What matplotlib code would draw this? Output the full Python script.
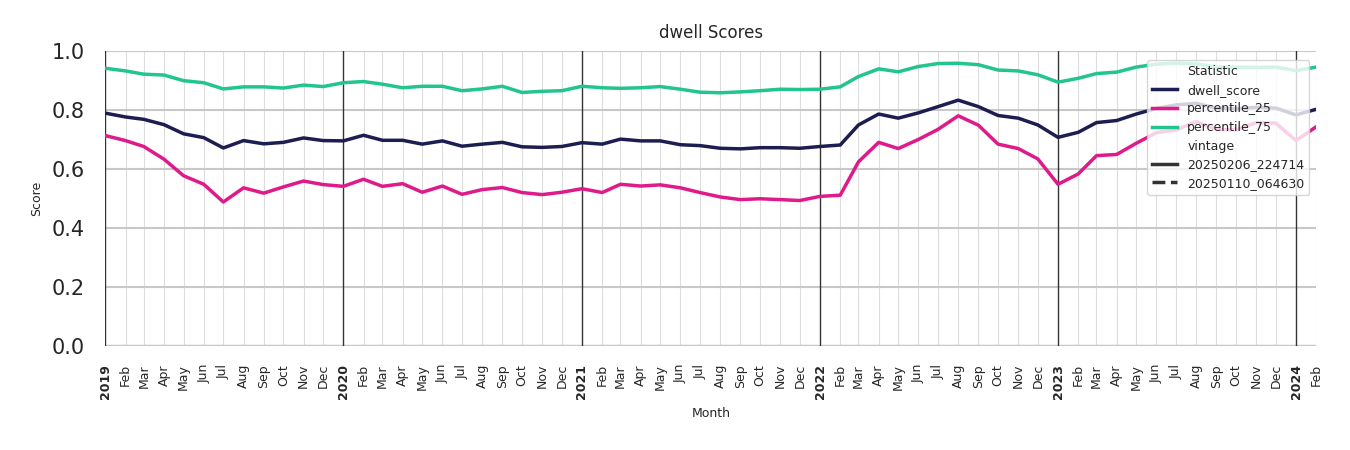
import pandas as pd
import matplotlib.pyplot as plt
from matplotlib.lines import Line2D

months = pd.date_range('2019-01-01', '2024-02-01', freq='MS')

dwell_score = [
    0.789, 0.776, 0.768, 0.750, 0.719, 0.706, 0.671, 0.696, 0.685, 0.690, 0.705, 0.696,
    0.695, 0.714, 0.697, 0.697, 0.684, 0.695, 0.677, 0.684, 0.690, 0.675, 0.673, 0.676,
    0.689, 0.684, 0.701, 0.695, 0.695, 0.682, 0.679, 0.670, 0.668, 0.672, 0.672, 0.670,
    0.676, 0.681, 0.749, 0.786, 0.772, 0.790, 0.811, 0.833, 0.811, 0.781, 0.772, 0.749,
    0.707, 0.724, 0.757, 0.764, 0.786, 0.805, 0.817, 0.822, 0.806, 0.803, 0.809, 0.806,
    0.783, 0.802,
]
percentile_25 = [
    0.713, 0.696, 0.676, 0.633, 0.577, 0.548, 0.488, 0.536, 0.518, 0.539, 0.559, 0.547,
    0.541, 0.565, 0.541, 0.550, 0.521, 0.542, 0.514, 0.530, 0.537, 0.520, 0.513, 0.521,
    0.533, 0.520, 0.548, 0.542, 0.546, 0.536, 0.520, 0.505, 0.496, 0.499, 0.496, 0.493,
    0.507, 0.511, 0.624, 0.690, 0.669, 0.700, 0.734, 0.780, 0.748, 0.684, 0.669, 0.634,
    0.548, 0.583, 0.645, 0.649, 0.687, 0.723, 0.732, 0.760, 0.734, 0.732, 0.757, 0.755,
    0.696, 0.743,
]
percentile_75 = [
    0.941, 0.932, 0.921, 0.918, 0.899, 0.892, 0.871, 0.878, 0.878, 0.874, 0.884, 0.879,
    0.892, 0.896, 0.887, 0.875, 0.880, 0.880, 0.865, 0.871, 0.880, 0.859, 0.863, 0.865,
    0.880, 0.875, 0.873, 0.875, 0.879, 0.870, 0.860, 0.858, 0.861, 0.865, 0.870, 0.869,
    0.870, 0.878, 0.913, 0.939, 0.929, 0.947, 0.957, 0.958, 0.953, 0.935, 0.932, 0.919,
    0.894, 0.907, 0.923, 0.928, 0.945, 0.955, 0.958, 0.956, 0.945, 0.945, 0.944, 0.945,
    0.933, 0.945,
]

colors = {'dwell_score': '#1c1d50', 'percentile_25': '#df1a8a', 'percentile_75': '#22c48f'}

fig = plt.figure(figsize=(13.5, 4.5), dpi=100)
ax = fig.add_axes([0.078, 0.231, 0.897, 0.656])

# month grid, year lines
for m in months:
    if m.month == 1:
        ax.axvline(m, color='#333333', lw=1.0, zorder=1)
    else:
        ax.axvline(m, color='#dddddd', lw=0.8, zorder=0)
for yv in [0.0, 0.2, 0.4, 0.6, 0.8, 1.0]:
    ax.axhline(yv, color='#c8c8c8', lw=1.5 if yv > 0 else 2.5, zorder=0)

ax.plot(months, dwell_score, color=colors['dwell_score'], lw=2.5, zorder=3)
ax.plot(months, percentile_25, color=colors['percentile_25'], lw=2.5, zorder=3)
ax.plot(months, percentile_75, color=colors['percentile_75'], lw=2.5, zorder=3)

ax.set_xlim(months[0], months[-1])
ax.set_ylim(0, 1.0)
for s in ax.spines.values():
    s.set_visible(False)

ax.set_yticks([0.0, 0.2, 0.4, 0.6, 0.8, 1.0])
ax.set_yticklabels(['0.0', '0.2', '0.4', '0.6', '0.8', '1.0'], fontsize=15, color='#262626')
ax.tick_params(axis='y', length=0, pad=15)
ax.tick_params(axis='x', length=0, pad=13)

ax.set_xticks(months)
labels = [str(m.year) if m.month == 1 else m.strftime('%b') for m in months]
ax.set_xticklabels(labels, rotation=90, fontsize=9, color='#262626')
for t, m in zip(ax.get_xticklabels(), months):
    if m.month == 1:
        t.set_fontweight('bold')

ax.set_title('dwell Scores', fontsize=12, color='#262626', pad=9)
ax.set_ylabel('Score', fontsize=9, color='#262626', labelpad=6)
ax.set_xlabel('Month', fontsize=9, color='#262626', labelpad=6)

handles = [
    Line2D([], [], color='none'),
    Line2D([], [], color=colors['dwell_score'], lw=2.5),
    Line2D([], [], color=colors['percentile_25'], lw=2.5),
    Line2D([], [], color=colors['percentile_75'], lw=2.5),
    Line2D([], [], color='none'),
    Line2D([], [], color='#333333', lw=2.5),
    Line2D([], [], color='#333333', lw=2.5, ls='--'),
]
names = ['Statistic', 'dwell_score', 'percentile_25', 'percentile_75',
         'vintage', '20250206_224714', '20250110_064630']
leg = ax.legend(handles, names, loc='upper right', bbox_to_anchor=(0.9995, 0.99),
                fontsize=9, framealpha=0.8, edgecolor='#cccccc', handlelength=2.0,
                labelspacing=0.45, borderpad=0.4)
for t in leg.get_texts():
    t.set_color('#262626')
leg.set_zorder(5)

plt.savefig('out.png')
plt.close()
